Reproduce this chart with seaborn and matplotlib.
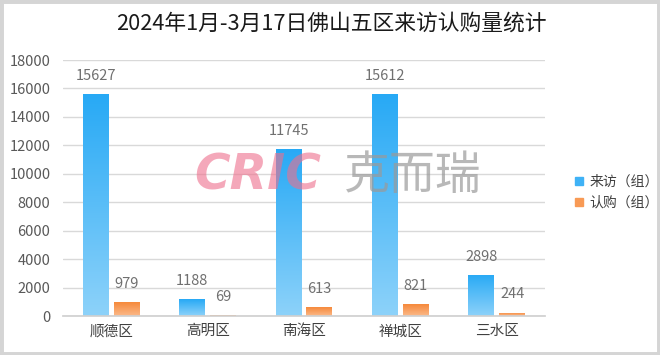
import numpy as np
import pandas as pd
import matplotlib
matplotlib.use("Agg")
import matplotlib.pyplot as plt
import seaborn as sns
from matplotlib.colors import LinearSegmentedColormap
from matplotlib.patches import Rectangle
from matplotlib.lines import Line2D

districts = ["顺德区", "高明区", "南海区", "禅城区", "三水区"]
visits = [15627, 1188, 11745, 15612, 2898]
subs = [979, 69, 613, 821, 244]
series_names = ["来访（组）", "认购（组）"]
title = "2024年1月-3月17日佛山五区来访认购量统计"
yticks = [0, 2000, 4000, 6000, 8000, 10000, 12000, 14000, 16000, 18000]

sns.set_theme(style="white")
plt.rcParams['font.family'] = ['Noto Sans CJK SC', 'DejaVu Sans']

df = pd.DataFrame({
    "区": districts * 2,
    "值": visits + subs,
    "类": [series_names[0]] * 5 + [series_names[1]] * 5,
})

fig = plt.figure(figsize=(6.6, 3.55), dpi=100)
fig.patch.set_facecolor("white")
ax = fig.add_axes([63/660, 1 - 316/355, (545 - 63)/660, (316 - 60)/355])

sns.barplot(data=df, x="区", y="值", hue="类", hue_order=series_names,
            order=districts, width=0.64, gap=0.16, ax=ax,
            palette=["#2AABF6", "#F78B3A"], legend=False, errorbar=None)

ax.set_ylim(0, 18000)
ax.set_xlim(-0.5, 4.5)
ax.set_yticks(yticks)
ax.set_yticklabels([str(v) for v in yticks])
ax.grid(axis="y", color="#D9D9D9", linewidth=1)
ax.set_axisbelow(True)
for s in ["top", "right", "left"]:
    ax.spines[s].set_visible(False)
ax.spines["bottom"].set_color("#D0D0D0")
ax.set_xlabel("")
ax.set_ylabel("")
ax.tick_params(axis="y", length=0, pad=9, labelsize=10.5, labelcolor="#595959")
ax.tick_params(axis="x", length=0, pad=6, labelsize=10.5, labelcolor="#404040")

cmaps = {
    0: LinearSegmentedColormap.from_list("b", ["#8DD2FA", "#27A9F5"]),
    1: LinearSegmentedColormap.from_list("o", ["#FBB98A", "#F6893A"]),
}
grad = np.linspace(0, 1, 256).reshape(-1, 1)
patches = list(ax.patches)
for i, p in enumerate(patches):
    idx = 0 if i < 5 else 1
    x0, y0 = p.get_x(), p.get_y()
    w, h = p.get_width(), p.get_height()
    im = ax.imshow(grad, cmap=cmaps[idx], extent=[x0, x0 + w, y0, y0 + h],
                   origin="lower", aspect="auto", zorder=2, interpolation="bicubic")
    im.set_clip_path(p)
    p.set_facecolor("none")
    p.set_edgecolor("none")
    val = visits[i] if idx == 0 else subs[i - 5]
    ax.annotate(str(val), (x0 + w / 2, y0 + h), xytext=(0, 8),
                textcoords="offset points", ha="center", va="bottom",
                fontsize=10.5, color="#707070")

ax.set_xlim(-0.5, 4.5)
ax.set_ylim(0, 18000)

# watermark
fig.text(258/660, 1 - 176/355, "CRIC", fontsize=35, fontweight="bold",
         style="italic", color="#EE6F8C", alpha=0.6, ha="center",
         va="center", family=["DejaVu Sans"], zorder=10)
fig.text(413/660, 1 - 176/355, "克而瑞", fontsize=33, color="#9A9A9A",
         alpha=0.7, ha="center", va="center", zorder=10)

fig.text(331/660, 1 - 24/355, title, fontsize=15.7, color="#1A1A1A",
         ha="center", va="center")

handles = [Line2D([], [], marker="s", linestyle="none", markersize=6,
                  markerfacecolor=c, markeredgecolor=c)
           for c in ["#3FB2F6", "#F89A55"]]
fig.legend(handles, series_names, loc="center left",
           bbox_to_anchor=(560/660, 1 - 192/355), frameon=False,
           fontsize=10, handletextpad=0.2, labelspacing=0.5,
           labelcolor="#404040", handlelength=1.0)

fig.patches.append(Rectangle((0, 0), 1, 1, transform=fig.transFigure,
                             fill=False, edgecolor="#D5D5D5", linewidth=5,
                             zorder=-1))

fig.savefig("out.png", dpi=100, facecolor="white")
